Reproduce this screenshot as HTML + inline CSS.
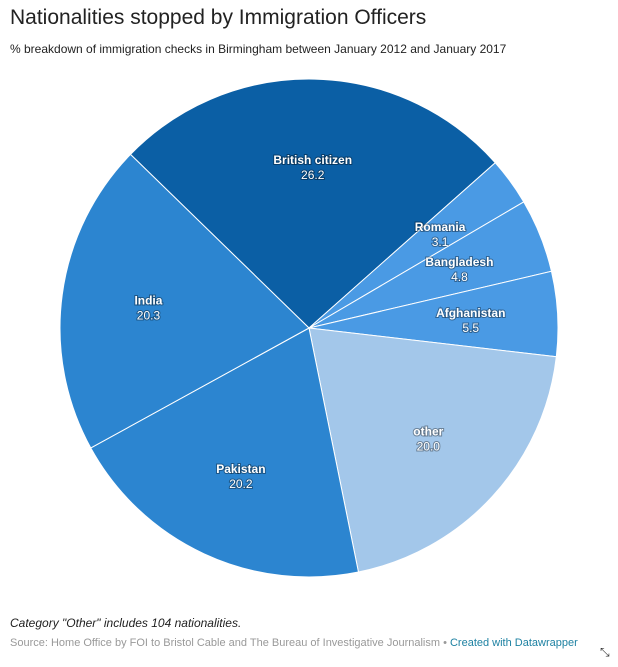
<!DOCTYPE html>
<html><head><meta charset="utf-8"><style>
body{margin:0;background:#fff;font-family:"Liberation Sans",Arial,sans-serif;width:618px;height:667px;overflow:hidden;position:relative}
#title{position:absolute;left:10px;top:6px;font-size:21px;color:#222}
#sub{position:absolute;left:10px;top:42px;font-size:12px;color:#222}
#note{position:absolute;left:10px;top:616px;font-size:12px;font-style:italic;color:#222}
#src{position:absolute;left:10px;top:637px;font-size:11px;color:#999}
#src span{color:#1d81a2}
#resize{position:absolute;left:600px;top:645px;font-size:12px;color:#333}
svg{position:absolute;left:0;top:0}
svg text{font-family:"Liberation Sans",Arial,sans-serif;font-size:12px;fill:#fff;text-anchor:middle;paint-order:stroke;stroke:rgba(0,0,0,0.35);stroke-width:2px}
</style></head><body>
<div id="title">Nationalities stopped by Immigration Officers</div>
<div id="sub">% breakdown of immigration checks in Birmingham between January 2012 and January 2017</div>
<svg id="chart" width="618" height="667"></svg>
<div id="note">Category "Other" includes 104 nationalities.</div>
<div id="src">Source: Home Office by FOI to Bristol Cable and The Bureau of Investigative Journalism • <span>Created with Datawrapper</span></div>
<div id="resize">⤡</div>
<script>
const categories=["British citizen","Romania","Bangladesh","Afghanistan","other","Pakistan","India"];
const values=[26.2,3.1,4.8,5.5,20.0,20.2,20.3];
const colors=["#0b5fa5","#4a9ae4","#4a9ae4","#4a9ae4","#a3c7ea","#2c85d0","#2c85d0"];
const svg=document.getElementById('chart');
const NS="http://www.w3.org/2000/svg";
const cx=309,cy=328,R=249,LR=162,start=-45.8;
const total=values.reduce((a,b)=>a+b,0);
function pt(a,r){const t=a*Math.PI/180;return [cx+r*Math.sin(t),cy-r*Math.cos(t)];}
let a=start;
values.forEach((v,i)=>{
  const sw=v/total*360,a2=a+sw;
  const p1=pt(a,R),p2=pt(a2,R);
  const p=document.createElementNS(NS,'path');
  p.setAttribute('d',`M${cx},${cy}L${p1[0]},${p1[1]}A${R},${R} 0 ${sw>180?1:0} 1 ${p2[0]},${p2[1]}Z`);
  p.setAttribute('fill',colors[i]);p.setAttribute('stroke','#fff');p.setAttribute('stroke-width','1');
  
  
  svg.appendChild(p);
  const m=pt(a+sw/2,LR);
  const t=document.createElementNS(NS,'text');
  t.setAttribute('x',m[0]);t.setAttribute('y',m[1]-2);t.setAttribute('font-weight','bold');
  t.textContent=categories[i];
  
  
  svg.appendChild(t);
  const t2=document.createElementNS(NS,'text');
  t2.setAttribute('x',m[0]);t2.setAttribute('y',m[1]+13);
  t2.textContent=v.toFixed(1);
  
  
  svg.appendChild(t2);
  a=a2;
});
</script>
</body></html>
